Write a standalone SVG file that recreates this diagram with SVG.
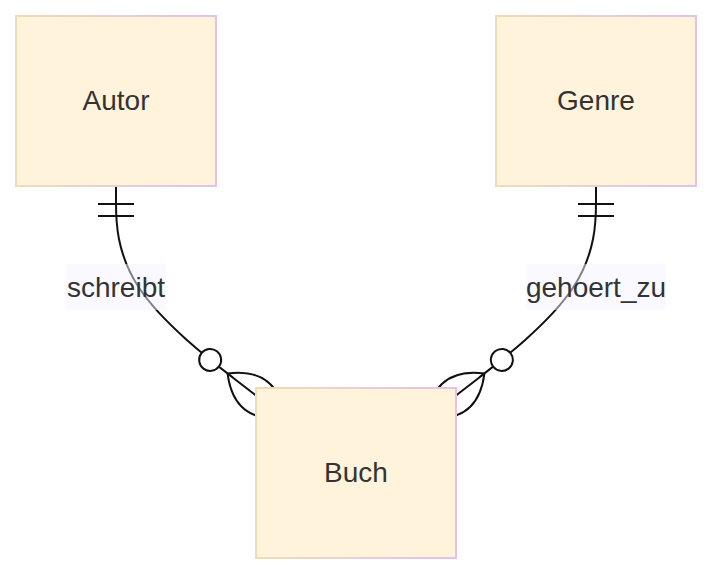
<svg xmlns="http://www.w3.org/2000/svg" xmlns:xlink="http://www.w3.org/1999/xlink" width="712" height="574" viewBox="0 0 712 574">
  <style>
    .entity { fill: #fff3dc; stroke: url(#bd); stroke-width: 2; }
    .etext { font-family: "Liberation Sans", Arial, sans-serif; font-size: 28px; fill: #333333; text-anchor: middle; }
    .rel { fill: none; stroke: #111111; stroke-width: 2; }
    .mk { fill: none; stroke: #111111; stroke-width: 2; }
    .mkc { fill: #ffffff; stroke: #111111; stroke-width: 2; }
    .lbox { fill: #f3f3ff; opacity: 0.5; }
    .ltext { font-family: "Liberation Sans", Arial, sans-serif; font-size: 28px; fill: #333333; text-anchor: middle; }
  </style>
  <defs>
    <linearGradient id="bd" x1="0" y1="0" x2="1" y2="0">
      <stop offset="0" stop-color="#f0dcb4"/>
      <stop offset="1" stop-color="#e0c2ee"/>
    </linearGradient>
    <g id="zeroOrMore">
      <path class="mk" d="M-36,0 Q0,-36 36,0 Q0,36 -36,0"/>
      <circle class="mkc" cx="-58" cy="0" r="11"/>
    </g>
    <g id="onlyOne">
      <path class="mk" d="M18,-18 L18,18 M30,-18 L30,18"/>
    </g>
  </defs>
  <rect width="712" height="574" fill="#ffffff"/>

  <g id="connectors">
    <path class="rel" d="M116,186 L116,202.8 C116,219.7 116,253.3 139.33,288.25 C162.67,323.17 209.33,359.33 232.67,377.42 L256,395.5"/>
    <path class="rel" d="M596,186 L596,202.8 C596,219.7 596,253.3 572.67,288.25 C549.33,323.17 502.67,359.33 479.33,377.42 L456,395.5"/>
    <use xlink:href="#onlyOne" href="#onlyOne" transform="translate(116,186) rotate(90)"/>
    <use xlink:href="#onlyOne" href="#onlyOne" transform="translate(596,186) rotate(90)"/>
    <use xlink:href="#zeroOrMore" href="#zeroOrMore" transform="translate(256,395.5) rotate(37.8)"/>
    <use xlink:href="#zeroOrMore" href="#zeroOrMore" transform="translate(456,395.5) rotate(142.2)"/>
    <g id="label-schreibt">
      <rect class="lbox" x="66" y="264" width="100" height="46"/>
      <text class="ltext" x="116" y="296.5">schreibt</text>
    </g>
    <g id="label-gehoert_zu">
      <rect class="lbox" x="526" y="264" width="140" height="46"/>
      <text class="ltext" x="596" y="296.5">gehoert_zu</text>
    </g>
  </g>

  <g id="Autor">
    <rect class="entity" x="16" y="16" width="200" height="170"/>
    <text class="etext" x="116" y="110">Autor</text>
  </g>
  <g id="Genre">
    <rect class="entity" x="496" y="16" width="200" height="170"/>
    <text class="etext" x="596" y="110">Genre</text>
  </g>
  <g id="Buch">
    <rect class="entity" x="256" y="388" width="200" height="170"/>
    <text class="etext" x="356" y="482">Buch</text>
  </g>
</svg>
